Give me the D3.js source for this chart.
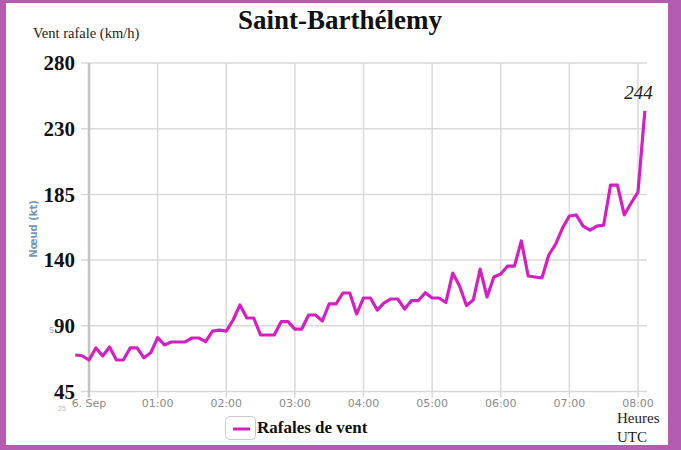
<!DOCTYPE html>
<html>

<head>
    <script src="https://d3js.org/d3.v7.min.js"></script>
    <title>Saint-Barthélemy</title>
    <meta charset="UTF-8">
    <style type="text/css">
        body { margin: 0; background: #fff; }
        svg { display: block; }
    </style>
</head>

<body>
    <script type="text/javascript">
        // gusts in km/h, one reading every 6 minutes starting 23:48 UTC (5 Sep)
        var startMinute = -12, stepMinutes = 6;
        var gustKmh = [72, 71.5, 68.5, 77, 71.3, 77.7, 68.5, 68.5, 77, 77,
            70.1, 73.6, 84.2, 79.1, 81.2, 81.2, 81.2, 84, 84, 81.4,
            88.9, 89.6, 88.9, 96.7, 107.3, 98.1, 98.1, 86.1, 86.1, 86.1,
            95.5, 95.5, 90.3, 90.3, 100.2, 100.2, 96, 108, 108, 115.7,
            115.7, 100.9, 112.2, 112.2, 103.7, 108.7, 111.5, 111.5, 104.4, 110.4,
            110.4, 115.9, 112.2, 112.2, 109, 129.8, 120.6, 106.9, 110.8, 132.6,
            112.9, 127, 129.1, 134.7, 134.7, 152.4, 127.7, 127, 126.3, 142.5,
            150.2, 161.5, 170, 170.7, 162.9, 160.1, 162.9, 163.6, 191.8, 191.8,
            170.7, 179.1, 186.9, 244];

        var KT = 1.852; // km/h per knot
        var yTicksKt = [25, 50, 75, 100, 125, 150];
        var yTickLabels = ["45", "90", "140", "185", "230", "280"];
        var xTicksMin = [0, 60, 120, 180, 240, 300, 360, 420, 480];
        var xTickLabels = ["6. Sep", "01:00", "02:00", "03:00", "04:00", "05:00", "06:00", "07:00", "08:00"];
        var peakLabel = "244";

        var W = 681, H = 450;
        var plot = { left: 89, right: 638, top: 63, bottom: 391.5, gridRight: 647 };

        var svg = d3.select("body").append("svg")
            .attr("width", W)
            .attr("height", H);

        // purple frame
        svg.append("rect").attr("width", W).attr("height", H).attr("fill", "#b35cb0");
        svg.append("rect")
            .attr("x", 6).attr("y", 3)
            .attr("width", 662).attr("height", 442)
            .attr("fill", "#fff");

        var x = d3.scaleLinear().domain([0, 480]).range([plot.left, plot.right]);
        var y = d3.scaleLinear().domain([25 * KT, 150 * KT]).range([plot.bottom, plot.top]);

        // horizontal grid
        svg.append("g").selectAll("line")
            .data(yTicksKt)
            .join("line")
            .attr("x1", plot.left - 8).attr("x2", plot.gridRight)
            .attr("y1", function (d) { return y(d * KT); })
            .attr("y2", function (d) { return y(d * KT); })
            .attr("stroke", "#d9d9d9")
            .attr("stroke-width", 1.5);

        // vertical grid
        svg.append("g").selectAll("line")
            .data(xTicksMin.slice(1))
            .join("line")
            .attr("x1", function (d) { return x(d); })
            .attr("x2", function (d) { return x(d); })
            .attr("y1", plot.top).attr("y2", plot.bottom + 6)
            .attr("stroke", "#d9d9d9")
            .attr("stroke-width", 1.5);

        // y axis line
        svg.append("line")
            .attr("x1", plot.left).attr("x2", plot.left)
            .attr("y1", plot.top).attr("y2", plot.bottom + 6)
            .attr("stroke", "#c4c4c4")
            .attr("stroke-width", 2.5);

        // faint leftovers of the knot labels
        svg.append("text").attr("x", 49).attr("y", 333)
            .style("font-family", "Liberation Sans").style("font-size", "9px")
            .attr("fill", "#aaa").text("5");
        svg.append("text").attr("x", 58).attr("y", 411)
            .style("font-family", "Liberation Sans").style("font-size", "7px")
            .attr("fill", "#bbb").text("25");

        // y tick labels (km/h)
        svg.append("g").selectAll("text")
            .data(yTicksKt)
            .join("text")
            .attr("x", 75)
            .attr("y", function (d) { return y(d * KT); })
            .attr("dy", "0.35em")
            .attr("text-anchor", "end")
            .style("font-family", "Liberation Serif")
            .style("font-weight", "bold")
            .style("font-size", "21px")
            .attr("fill", "#111")
            .text(function (d, i) { return yTickLabels[i]; });

        // x tick labels
        svg.append("g").selectAll("text")
            .data(xTicksMin)
            .join("text")
            .attr("x", function (d) { return x(d); })
            .attr("y", 407)
            .attr("text-anchor", "middle")
            .style("font-family", "DejaVu Sans")
            .style("font-size", "11px")
            .attr("fill", "#8a8a8a")
            .text(function (d, i) { return xTickLabels[i]; });

        // axis titles
        svg.append("text")
            .attr("x", 33).attr("y", 38)
            .style("font-family", "Liberation Serif")
            .style("font-size", "14.5px")
            .attr("fill", "#222")
            .text("Vent rafale (km/h)");

        svg.append("text")
            .attr("transform", "translate(37,229) rotate(-90)")
            .attr("text-anchor", "middle")
            .style("font-family", "DejaVu Sans")
            .style("font-weight", "bold")
            .style("font-size", "10px")
            .attr("fill", "#7297c0")
            .text("Nœud (kt)");

        svg.append("text")
            .attr("x", 617).attr("y", 423)
            .style("font-family", "Liberation Serif")
            .style("font-size", "15px")
            .attr("fill", "#222")
            .text("Heures");
        svg.append("text")
            .attr("x", 617).attr("y", 442)
            .style("font-family", "Liberation Serif")
            .style("font-size", "15px")
            .attr("fill", "#222")
            .text("UTC");

        // title
        svg.append("text")
            .attr("x", 340).attr("y", 29)
            .attr("text-anchor", "middle")
            .style("font-family", "Liberation Serif")
            .style("font-weight", "bold")
            .style("font-size", "27px")
            .attr("fill", "#111")
            .text("Saint-Barthélemy");

        // gust line
        var gustLine = d3.line()
            .x(function (d, i) { return x(startMinute + i * stepMinutes); })
            .y(function (d) { return y(d); });

        svg.append("path")
            .attr("d", gustLine(gustKmh))
            .attr("fill", "none")
            .attr("stroke", "#d420c0")
            .attr("stroke-width", 3.2)
            .attr("stroke-linejoin", "round");

        // peak value
        var lastI = gustKmh.length - 1;
        svg.append("text")
            .attr("x", x(startMinute + lastI * stepMinutes) + 8)
            .attr("y", 99)
            .attr("text-anchor", "end")
            .style("font-family", "Liberation Serif")
            .style("font-style", "italic")
            .style("font-size", "19px")
            .attr("fill", "#222")
            .text(peakLabel);

        // legend
        var legend = svg.append("g");
        legend.append("rect")
            .attr("x", 225.5).attr("y", 416.5)
            .attr("width", 30).attr("height", 23)
            .attr("rx", 4)
            .attr("fill", "#fff")
            .attr("stroke", "#c8c8c8");
        legend.append("line")
            .attr("x1", 233).attr("x2", 250)
            .attr("y1", 429).attr("y2", 429)
            .attr("stroke", "#d420c0")
            .attr("stroke-width", 3);
        legend.append("text")
            .attr("x", 257).attr("y", 433)
            .style("font-family", "Liberation Serif")
            .style("font-weight", "bold")
            .style("font-size", "17px")
            .attr("fill", "#111")
            .text("Rafales de vent");
    </script>
</body>

</html>
